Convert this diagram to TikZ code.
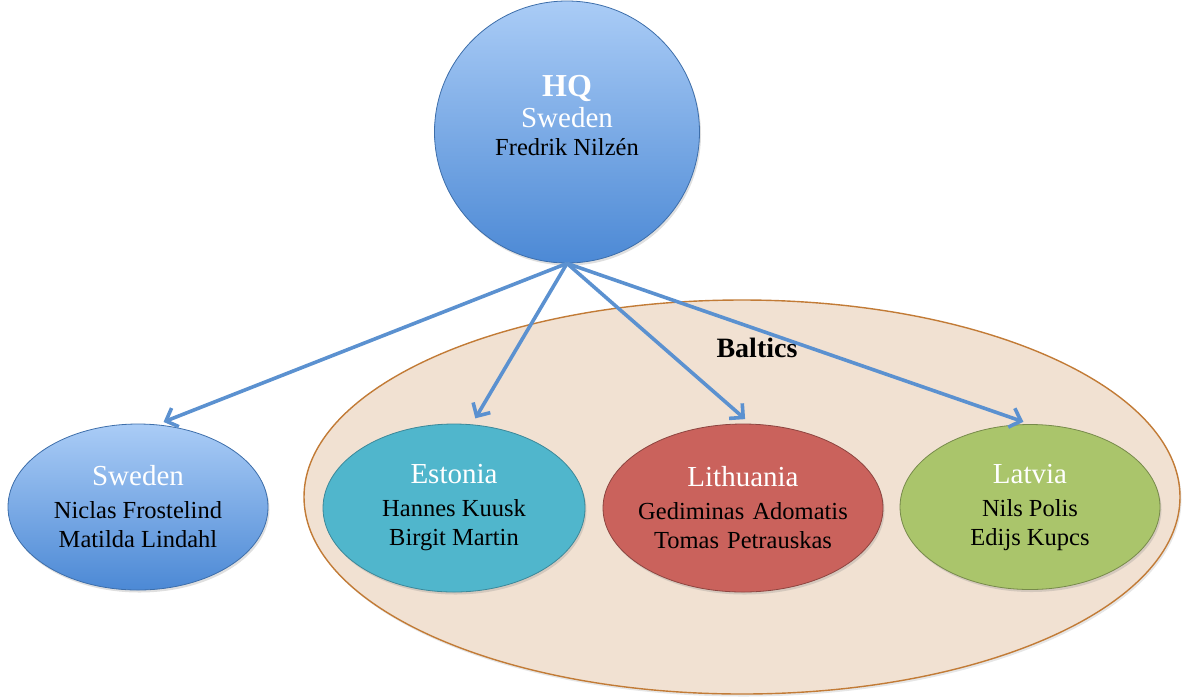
\documentclass[tikz,border=0pt]{standalone}
\usepackage{fontspec}
\setmainfont{Liberation Serif}
\usepackage{xcolor}
\usetikzlibrary{shapes.geometric,shadows,arrows.meta}
\definecolor{hqtop}{HTML}{AACCF6}
\definecolor{hqbot}{HTML}{4C89D5}
\definecolor{estfill}{HTML}{50B6CC}
\definecolor{litfill}{HTML}{CA625C}
\definecolor{latfill}{HTML}{AAC56B}
\definecolor{balfill}{HTML}{F1E1D2}
\definecolor{balline}{HTML}{C27B36}
\definecolor{arrowblue}{HTML}{5B91D0}

\begin{document}
\begin{tikzpicture}[x=1pt,y=-1pt,every node/.style={font=\fontsize{24.5}{29}\selectfont}]
\tikzset{
  office/.style={ellipse,inner sep=0pt,align=center,line width=0.8pt,
    drop shadow={shadow xshift=1.5pt,shadow yshift=-2.5pt,opacity=0.25}},
  blueoffice/.style={office,draw=hqbot!80!black,top color=hqtop,bottom color=hqbot},
  link/.style={arrowblue,line width=3.6pt,shorten >=7pt,
    -{Straight Barb[length=10pt,width=20pt,line width=3.6pt]}}
}
\newcommand\cname[1]{{\color{white}\fontsize{29}{32}\selectfont #1}}
\newcommand\wideline[1]{\makebox[190pt]{#1}}
\useasboundingbox (0,0) rectangle (1182,697);
% Baltics group
\node[ellipse,draw=balline,line width=1.4pt,fill=balfill,minimum width=876,minimum height=394,
  drop shadow={shadow xshift=1.5pt,shadow yshift=-2.5pt,opacity=0.2}] (baltics) at (742,497) {};
\node[font=\bfseries\fontsize{28}{32}\selectfont] (balticslabel) at (757,348) {Baltics};
% head office
\node[blueoffice,minimum width=265,minimum height=262] (hq) at (567,132) {};
\node[align=center] (hqtext) at (567,116)
  {{\bfseries\color{white}\fontsize{32}{34}\selectfont HQ}\\[2pt]
   \cname{Sweden}\\[-1pt] Fredrik Nilzén};
% offices
\node[blueoffice,minimum width=260,minimum height=166] (swe) at (138,507)
  {\cname{Sweden}\\[4pt] Niclas Frostelind\\ Matilda Lindahl};
\node[office,draw=estfill!75!black,fill=estfill,minimum width=262,minimum height=168] (est) at (454,508)
  {\cname{Estonia}\\[4pt] Hannes Kuusk\\ Birgit Martin};
\node[office,draw=litfill!70!black,fill=litfill,minimum width=280,minimum height=168,
  text width=190] (lit) at (743,508)
  {\cname{Lithuania}\\[4pt] \wideline{Gediminas Adomatis}\\ \wideline{Tomas Petrauskas}};
\node[office,draw=latfill!70!black,fill=latfill,minimum width=260,minimum height=165] (lat) at (1030,507)
  {\cname{Latvia}\\[4pt] Nils Polis\\ Edijs Kupcs};
% links
\draw[link] (hq.south) -- (swe.77);
\draw[link] (hq.south) -- (est.78);
\draw[link] (hq.south) -- (lit.85);
\draw[link] (hq.south) -- (lat.north);
\end{tikzpicture}
\end{document}
